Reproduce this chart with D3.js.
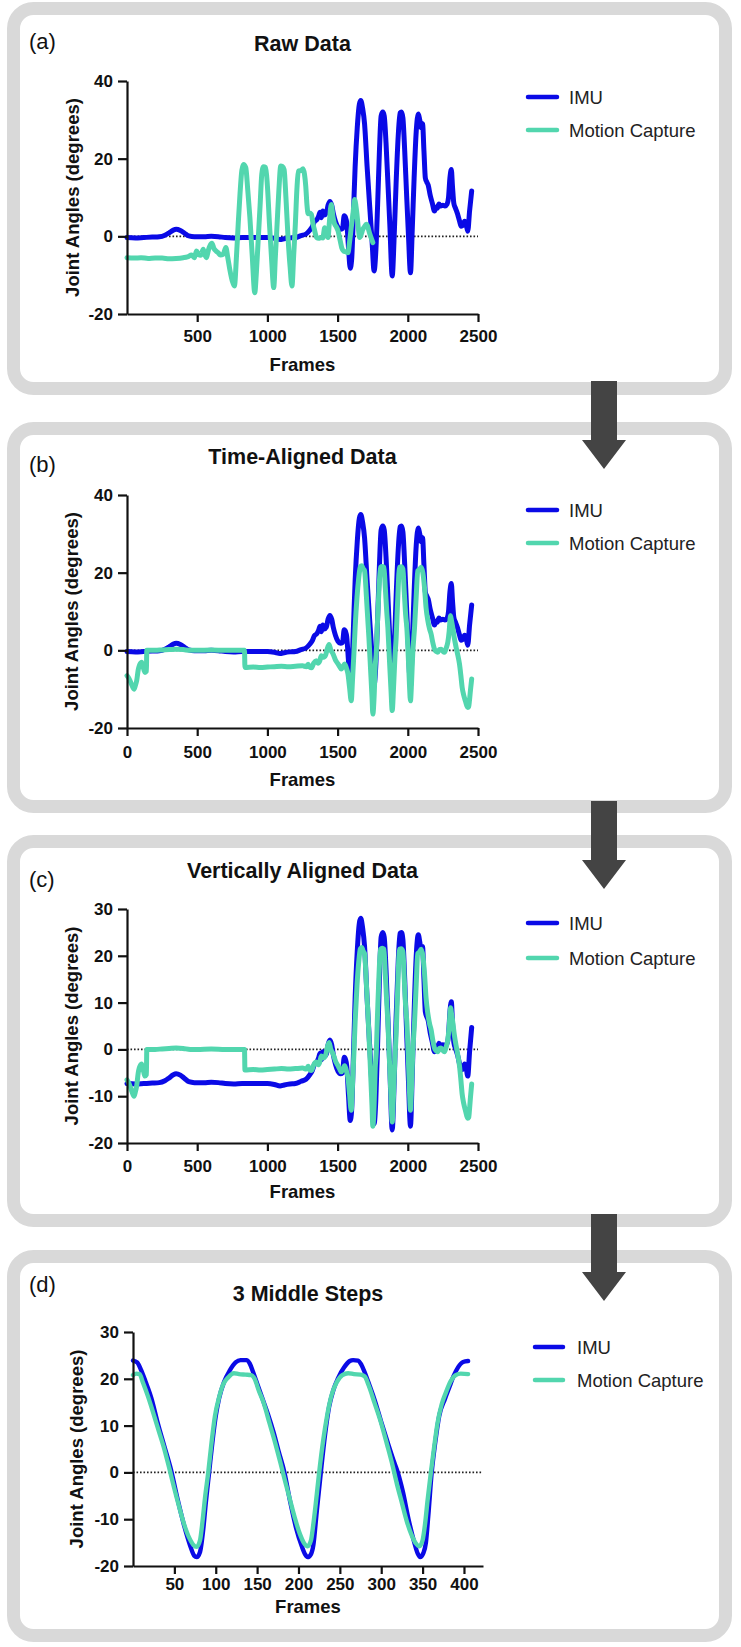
<!DOCTYPE html>
<html><head><meta charset="utf-8">
<script src="https://cdn.jsdelivr.net/npm/d3@7"></script>
<style>body{margin:0;background:#fff}svg{display:block}</style>
</head><body><svg id="chart" width="741" height="1647"></svg>
<script>
// ---------------- DATA ----------------
const seriesNames = ["IMU", "Motion Capture"];
const panelTitles = ["Raw Data", "Time-Aligned Data", "Vertically Aligned Data", "3 Middle Steps"];
const panelLetters = ["(a)", "(b)", "(c)", "(d)"];
const axisTitleX = "Frames";
const axisTitleY = "Joint Angles (degrees)";

const xTicksRaw = [500, 1000, 1500, 2000, 2500];
const xTicksAligned = [0, 500, 1000, 1500, 2000, 2500];
const xTicksSteps = [50, 100, 150, 200, 250, 300, 350, 400];
const yTicksAB = [-20, 0, 20, 40];
const yTicksCD = [-20, -10, 0, 10, 20, 30];

// IMU raw (panels a and b): [frame, angle]
const imuRaw = [[0,-0.3],[60,-0.4],[120,-0.3],[180,-0.2],[230,-0.1],[270,0.3],[300,0.9],[330,1.6],[350,1.8],[380,1.5],
[410,0.8],[440,0.1],[480,-0.1],[550,-0.1],[600,0.0],[650,-0.1],[700,-0.3],[760,-0.4],[820,-0.3],[880,-0.3],
[950,-0.3],[1000,-0.3],[1050,-0.5],[1090,-0.8],[1120,-0.6],[1160,-0.4],[1200,-0.3],[1240,0.2],[1275,0.6],[1300,1.5],
[1320,2.5],[1335,3.8],[1350,4.2],[1365,5.2],[1375,6.2],[1385,4.8],[1395,6.5],[1405,5.5],[1420,6.0],[1432,8.0],
[1445,9.0],[1458,8.0],[1470,5.8],[1485,3.8],[1503,2.3],[1520,1.8],[1535,2.0],[1547,5.3],[1557,4.8],[1565,3.5],
[1578,-3],[1590,-8.2],[1600,-6],[1612,5],[1625,18],[1640,28],[1655,34],[1665,35],[1678,33],[1692,29],
[1710,18],[1728,8],[1745,-1],[1760,-8.9],[1772,-4],[1785,8],[1798,22],[1810,31],[1822,32],[1832,31],
[1845,24],[1858,14],[1872,3],[1889,-10.2],[1903,0],[1917,14],[1932,26],[1945,31.8],[1955,32],[1965,30.5],
[1978,22],[1990,12],[2005,0],[2019,-9.4],[2032,2],[2045,15],[2060,27],[2075,31.5],[2085,30],[2095,28],
[2105,29],[2115,22],[2125,15],[2135,14],[2145,13.2],[2160,10.5],[2175,8.5],[2190,6.5],[2200,7.5],[2210,7.2],
[2222,8.3],[2235,7.8],[2250,8],[2265,7.8],[2280,8.3],[2290,10],[2300,15],[2310,17.2],[2318,13],[2328,8.5],
[2340,7.2],[2355,5.7],[2368,4],[2380,2.6],[2392,2.8],[2404,3.9],[2415,3.2],[2427,1.3],[2440,6.5],[2455,11.7]];

// IMU vertically aligned (panel c)
const imuVertical = [[0,-7.3],[60,-7.4],[120,-7.3],[180,-7.2],[230,-7.1],[270,-6.7],[300,-6.1],[330,-5.4],[350,-5.2],[380,-5.5],
[410,-6.2],[440,-6.9],[480,-7.1],[550,-7.1],[600,-7.0],[650,-7.1],[700,-7.3],[760,-7.4],[820,-7.3],[880,-7.3],
[950,-7.3],[1000,-7.3],[1050,-7.5],[1090,-7.8],[1120,-7.6],[1160,-7.4],[1200,-7.3],[1240,-6.8],[1275,-6.4],[1300,-5.5],
[1320,-4.5],[1335,-3.2],[1350,-2.8],[1365,-1.8],[1375,-0.8],[1385,-2.2],[1395,-0.5],[1405,-1.5],[1420,-1.0],[1432,1.0],
[1445,2.0],[1458,1.0],[1470,-1.2],[1485,-3.2],[1503,-4.7],[1520,-5.2],[1535,-5.0],[1547,-1.7],[1557,-2.2],[1565,-3.5],
[1578,-10],[1590,-15.2],[1600,-13],[1612,-2],[1625,11],[1640,21],[1655,27],[1665,28],[1678,26],[1692,22],
[1710,11],[1728,1],[1745,-8],[1760,-15.9],[1772,-11],[1785,1],[1798,15],[1810,24],[1822,25],[1832,24],
[1845,17],[1858,7],[1872,-4],[1889,-17.2],[1903,-7],[1917,7],[1932,19],[1945,24.8],[1955,25],[1965,23.5],
[1978,15],[1990,5],[2005,-7],[2019,-16.4],[2032,-5],[2045,8],[2060,20],[2075,24.5],[2085,23],[2095,21],
[2105,22],[2115,15],[2125,8],[2135,7],[2145,6.2],[2160,3.5],[2175,1.5],[2190,-0.5],[2200,0.5],[2210,0.2],
[2222,1.3],[2235,0.8],[2250,1],[2265,0.8],[2280,1.3],[2290,3],[2300,8],[2310,10.2],[2318,6],[2328,1.5],
[2340,0.2],[2355,-1.3],[2368,-3],[2380,-4.4],[2392,-4.2],[2404,-3.1],[2415,-3.8],[2427,-5.7],[2440,-0.5],[2455,4.7]];

// Motion capture raw (panel a)
const mocapRaw = [[0,-5.5],[50,-5.6],[100,-5.5],[150,-5.7],[200,-5.6],[250,-5.6],[300,-5.8],[350,-5.7],[400,-5.5],[430,-5.3],
[460,-4.8],[480,-5.5],[495,-3.8],[510,-4.6],[525,-4.9],[543,-3.3],[555,-4.8],[566,-5.5],[580,-3.5],[590,-2.5],
[605,-1.8],[620,-3.2],[635,-3.8],[649,-4.2],[665,-4.8],[685,-4.6],[704,-2.9],[718,-5.5],[732,-8.5],[750,-11.5],
[765,-12.8],[780,-5],[792,3.1],[805,11],[818,17],[830,18.5],[846,17.7],[860,12],[875,5],[892,-5],
[910,-14.5],[922,-9],[934,-1.2],[948,8],[960,16],[972,17.9],[988,17.7],[1000,13],[1015,3],[1030,-6],
[1045,-13.2],[1057,-5],[1069,3.1],[1082,12],[1095,18.1],[1108,18],[1119,17.2],[1132,10],[1148,-1],[1162,-8],
[1175,-12.8],[1187,-5],[1199,3.1],[1210,12],[1220,16.8],[1240,17],[1254,17.4],[1264,16],[1273,13],[1282,8],
[1290,5.8],[1300,6],[1313,5.7],[1325,3.2],[1337,1.4],[1350,-0.3],[1365,-0.5],[1384,-0.3],[1395,-0.4],[1408,2.2],
[1420,0.5],[1432,-0.3],[1440,3],[1455,8.2],[1467,5],[1479,3.1],[1490,2.5],[1503,1.4],[1519,-1.2],[1530,-3],
[1543,-3.8],[1560,-4.0],[1574,-4.2],[1585,-1.5],[1597,2.2],[1610,6],[1621,9.5],[1630,8],[1638,5.7],[1648,2],
[1657,-0.3],[1668,0.5],[1680,1.8],[1692,2.5],[1704,3.1],[1715,2.5],[1723,1.4],[1735,0],[1751,-1.6]];

// Motion capture time-aligned (panels b and c)
const mocapAligned = [[0,-6.5],[10,-7],[21,-7.8],[35,-9],[50,-10],[60,-9],[69,-7.8],[80,-5],[88,-3.9],[97,-3.3],
[104,-3.1],[110,-3.8],[116,-4.4],[122,-5.2],[128,-5.7],[138,-5.4],[141,0],[200,0],[250,0.1],[300,0.2],
[350,0.3],[400,0.2],[450,0],[500,0],[600,0.1],[700,0],[800,0],[837,0],[840,-4.4],[900,-4.3],
[950,-4.4],[1000,-4.3],[1050,-4.2],[1100,-4.1],[1150,-4.2],[1200,-4.1],[1250,-4.0],[1277,-4.2],[1290,-3.6],[1300,-4.3],
[1315,-4.5],[1330,-3.3],[1348,-2.7],[1360,-3.3],[1372,-2.8],[1384,-1.4],[1400,-1.8],[1415,-1.2],[1425,0.2],[1439,1.5],
[1452,0],[1467,-0.9],[1485,-2.5],[1503,-3.5],[1515,-4.2],[1526,-4.8],[1538,-4.2],[1550,-3.5],[1562,-4.5],[1574,-6.1],
[1585,-9.5],[1597,-13],[1607,-7],[1616,-0.9],[1625,6],[1638,13.6],[1650,18.5],[1662,21.5],[1672,21.8],[1682,21],
[1692,20.5],[1705,14],[1715,8],[1723,3.3],[1735,-5],[1745,-12],[1751,-16.4],[1760,-12],[1768,-4],[1775,-0.9],
[1785,8],[1795,16],[1806,21.4],[1818,21.6],[1830,21.4],[1840,16],[1850,10],[1858,5.9],[1870,-3],[1880,-10],
[1889,-15.5],[1898,-10],[1908,-2],[1917,3.3],[1928,13],[1941,21.4],[1953,21.5],[1965,20.9],[1975,15],[1985,9],
[1993,5.9],[2005,-3],[2012,-9],[2019,-13],[2027,-8],[2035,-1],[2048,5.9],[2060,14],[2071,20.5],[2083,20.8],
[2095,21.4],[2107,20],[2119,16.2],[2130,11],[2143,7.6],[2155,5.5],[2166,4.2],[2178,2],[2190,0.3],[2202,-0.3],
[2214,-0.5],[2225,0.2],[2237,0.3],[2249,-0.2],[2261,-0.5],[2273,0.5],[2285,2.1],[2295,5],[2304,8.9],[2312,7.5],
[2320,5.9],[2332,3],[2344,0.8],[2356,-1.2],[2368,-3.5],[2378,-6.5],[2387,-9.5],[2398,-11.5],[2410,-13],[2420,-14.2],
[2427,-14.7],[2434,-14.5],[2439,-13],[2447,-10],[2455,-7.4]];

// 3 middle steps (panel d)
const imuSteps = [[0,23.9],[5,23.5],[10,21.8],[15,19.5],[22,16],[30,10.5],[38,5.5],[46,0.5],[54,-5.8],[62,-11.5],
[69,-15.6],[74,-17.8],[77,-18.1],[81,-17],[85,-12],[88,-6.5],[92,0],[96,6.5],[100,12],[104,15.8],
[110,19.3],[117,21.8],[124,23.5],[130,24.0],[137,24.0],[141,23.3],[145,21.5],[150,19],[156,16],[163,12.5],
[170,8.5],[176,4.5],[183,0],[190,-6.3],[197,-11.8],[204,-15.8],[208,-17.5],[211,-18.1],[215,-17.5],[218,-15.5],
[222,-8.5],[227,0],[232,7.9],[237,14],[242,17.5],[248,20.2],[255,22.4],[262,23.8],[266,24.0],[272,23.9],
[276,23.0],[280,21.4],[286,18.5],[292,15.5],[300,10.8],[308,6.3],[316,2.0],[320,0],[326,-4],[333,-10],
[340,-15],[344,-17.3],[347,-18.1],[351,-17.2],[354,-15],[357,-9],[361,0],[365,6],[370,12],[377,15.7],
[383,18.5],[387,20.4],[393,22.5],[399,23.6],[405,23.8]];

const mocapSteps = [[0,20.8],[4,21.1],[8,21],[12,19.2],[18,16.3],[24,13],[30,9.5],[37,5.5],[44,0.8],[50,-3.5],
[56,-7.5],[62,-11.2],[68,-14],[73,-15.5],[77,-15.9],[81,-14.5],[84,-10.5],[87,-5.5],[91,0.1],[95,6.5],
[99,12],[104,16],[109,18.8],[115,20.3],[122,21.2],[128,21.0],[136,20.9],[143,20.8],[147,20],[152,17.5],
[158,14.8],[165,10.5],[172,6.2],[178,2.2],[184,-2],[190,-6],[196,-10],[202,-13.3],[207,-15.2],[211,-15.8],
[215,-14.6],[218,-11],[221,-6.5],[225,0],[230,7],[235,12.5],[240,16.5],[246,19.2],[253,20.8],[260,21.2],
[267,21.0],[275,20.9],[280,20.5],[285,18.5],[292,14.8],[300,10.5],[307,6],[313,2],[319,-2.5],[325,-6.5],
[331,-10.5],[337,-13.5],[342,-15.2],[346,-15.8],[350,-14.5],[353,-11],[356,-6],[360,0],[364,5.5],[368,10.5],
[373,14.5],[378,17],[384,19.5],[390,20.8],[396,21.1],[405,21.0]];

// ---------------- DRAWING ----------------
const COLORS = {imu: "#0a0ae6", mocap: "#52d6ae"};
const FONT = "'Liberation Sans', Arial, Helvetica, sans-serif";
const svg = d3.select("#chart");
svg.append("rect").attr("width", 741).attr("height", 1647).attr("fill", "#fff");

const panels = [
  {top: 2, bottom: 395, x0: 127, x1: 478, yTop: 81, yBot: 314, xDomain: [0, 2500], yDomain: [-20, 40],
   xTicks: xTicksRaw, yTicks: yTicksAB, imu: imuRaw, mocap: mocapRaw,
   titleY: 51, labelY: 49, tickY: 28, framesY: 371, yTitleX: 72,
   legX0: 528, legX1: 557, legTX: 569, legY: [97, 130]},
  {top: 422, bottom: 813, x0: 127, x1: 478, yTop: 495, yBot: 728, xDomain: [0, 2500], yDomain: [-20, 40],
   xTicks: xTicksAligned, yTicks: yTicksAB, imu: imuRaw, mocap: mocapAligned,
   titleY: 464, labelY: 472, tickY: 30, framesY: 786, yTitleX: 71,
   legX0: 528, legX1: 557, legTX: 569, legY: [510, 543]},
  {top: 835, bottom: 1227, x0: 127, x1: 478, yTop: 909, yBot: 1143, xDomain: [0, 2500], yDomain: [-20, 30],
   xTicks: xTicksAligned, yTicks: yTicksCD, imu: imuVertical, mocap: mocapAligned,
   titleY: 878, labelY: 887, tickY: 29, framesY: 1198, yTitleX: 71,
   legX0: 528, legX1: 557, legTX: 569, legY: [923, 958]},
  {top: 1250, bottom: 1642, x0: 133, x1: 483, yTop: 1332, yBot: 1566, xDomain: [0, 423], yDomain: [-20, 30],
   xTicks: xTicksSteps, yTicks: yTicksCD, imu: imuSteps, mocap: mocapSteps,
   titleY: 1301, labelY: 1292, tickY: 24, framesY: 1613, yTitleX: 76,
   legX0: 535, legX1: 563, legTX: 577, legY: [1347, 1380]}
];

panels.forEach((p, i) => {
  const g = svg.append("g");
  // panel frame
  g.append("rect")
    .attr("x", 13.5).attr("y", p.top + 6.5)
    .attr("width", 712).attr("height", p.bottom - p.top - 13)
    .attr("rx", 20).attr("ry", 20)
    .attr("fill", "#fff").attr("stroke", "#d9d9d9").attr("stroke-width", 13);

  const x = d3.scaleLinear().domain(p.xDomain).range([p.x0, p.x1]);
  const y = d3.scaleLinear().domain(p.yDomain).range([p.yBot, p.yTop]);

  // zero dotted line
  g.append("line")
    .attr("x1", p.x0).attr("x2", p.x1).attr("y1", y(0)).attr("y2", y(0))
    .attr("stroke", "#222").attr("stroke-width", 1.6).attr("stroke-dasharray", "1.6,1.9");

  const line = d3.line().x(d => x(d[0])).y(d => y(d[1])).curve(d3.curveMonotoneX);
  const sw = i === 3 ? 4.4 : 5;
  g.append("path").datum(p.imu).attr("d", line)
    .attr("fill", "none").attr("stroke", COLORS.imu).attr("stroke-width", sw)
    .attr("stroke-linejoin", "round").attr("stroke-linecap", "round");
  g.append("path").datum(p.mocap).attr("d", line)
    .attr("fill", "none").attr("stroke", COLORS.mocap).attr("stroke-width", sw)
    .attr("stroke-linejoin", "round").attr("stroke-linecap", "round");

  // axes
  const ax = g.append("g").attr("transform", `translate(0,${p.yBot})`)
    .call(d3.axisBottom(x).tickValues(p.xTicks).tickSize(8).tickSizeOuter(0).tickFormat(d3.format("d")));
  ax.selectAll("text").attr("dy", null).attr("y", p.tickY);
  const ay = g.append("g").attr("transform", `translate(${p.x0},0)`)
    .call(d3.axisLeft(y).tickValues(p.yTicks).tickSize(9).tickPadding(5).tickSizeOuter(0).tickFormat(d3.format("d")));
  [ax, ay].forEach(a => {
    a.select(".domain").attr("stroke", "#111").attr("stroke-width", 2.2);
    a.selectAll(".tick line").attr("stroke", "#111").attr("stroke-width", 2.2);
    a.selectAll("text").attr("fill", "#111").style("font-family", FONT)
      .style("font-size", "17px").style("font-weight", "bold");
  });
  ay.selectAll("text").text(d => d < 0 ? "-" + Math.abs(d) : d);

  // titles
  const cx = (p.x0 + p.x1) / 2;
  g.append("text").attr("x", cx).attr("y", p.titleY).attr("text-anchor", "middle")
    .style("font-family", FONT).style("font-size", "21.5px").style("font-weight", "bold")
    .attr("fill", "#111").text(panelTitles[i]);
  g.append("text").attr("x", 29).attr("y", p.labelY)
    .style("font-family", FONT).style("font-size", "22px").attr("fill", "#111").text(panelLetters[i]);
  g.append("text").attr("x", cx).attr("y", p.framesY).attr("text-anchor", "middle")
    .style("font-family", FONT).style("font-size", "18.5px").style("font-weight", "bold")
    .attr("fill", "#111").text(axisTitleX);
  g.append("text")
    .attr("transform", `translate(${p.yTitleX},${(p.yTop + p.yBot) / 2}) rotate(-90)`)
    .attr("text-anchor", "middle").attr("dominant-baseline", "central")
    .style("font-family", FONT).style("font-size", "18.5px").style("font-weight", "bold")
    .attr("fill", "#111").text(axisTitleY);

  // legend
  const legColors = [COLORS.imu, COLORS.mocap];
  seriesNames.forEach((name, k) => {
    g.append("line").attr("x1", p.legX0).attr("x2", p.legX1)
      .attr("y1", p.legY[k]).attr("y2", p.legY[k])
      .attr("stroke", legColors[k]).attr("stroke-width", 4.5).attr("stroke-linecap", "round");
    g.append("text").attr("x", p.legTX).attr("y", p.legY[k] + 6.6)
      .style("font-family", FONT).style("font-size", "18.5px").attr("fill", "#222").text(name);
  });
});

// arrows between panels
const arrows = [
  {stemTop: 381, base: 440, tip: 469},
  {stemTop: 801, base: 860, tip: 889},
  {stemTop: 1214, base: 1272, tip: 1301}
];
arrows.forEach(a => {
  const cx = 604, sw = 13, hw = 22;
  svg.append("path")
    .attr("d", `M${cx - sw},${a.stemTop} L${cx + sw},${a.stemTop} L${cx + sw},${a.base} L${cx + hw},${a.base} L${cx},${a.tip} L${cx - hw},${a.base} L${cx - sw},${a.base} Z`)
    .attr("fill", "#444");
});
</script>
</body></html>
